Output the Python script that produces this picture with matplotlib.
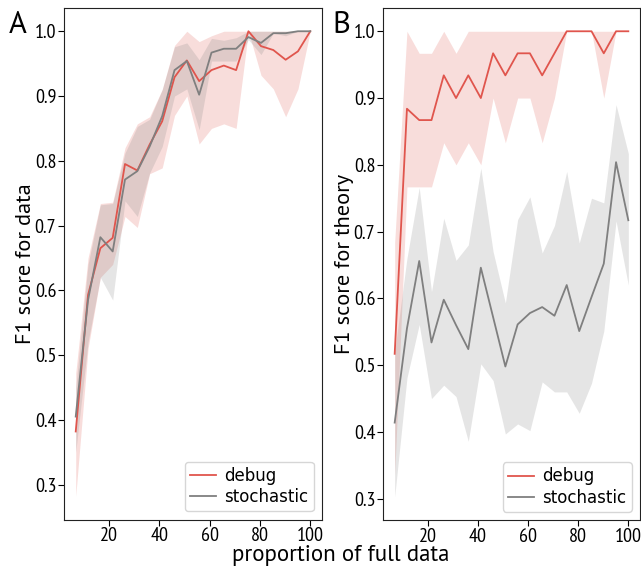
import numpy as np
import matplotlib
matplotlib.use("Agg")
import matplotlib.pyplot as plt

# proportion of full data (%)
prop = [6.7, 11.6, 16.5, 21.4, 26.3, 31.2, 36.1, 41.1, 46.0, 50.9,
        55.8, 60.7, 65.6, 70.5, 75.4, 80.4, 85.3, 90.2, 95.1, 100.0]

# panel A: F1 score for data
data_debug = [0.382, 0.593, 0.665, 0.681, 0.795, 0.785, 0.825, 0.861, 0.929, 0.955,
              0.923, 0.940, 0.947, 0.940, 1.000, 0.977, 0.971, 0.956, 0.969, 1.000]
data_debug_hi = [0.472, 0.650, 0.734, 0.736, 0.820, 0.857, 0.868, 0.910, 0.978, 1.000,
                 0.984, 0.993, 1.000, 1.000, 1.000, 1.000, 1.000, 1.000, 1.000, 1.000]
data_debug_lo = [0.282, 0.510, 0.620, 0.640, 0.714, 0.697, 0.780, 0.789, 0.870, 0.900,
                 0.826, 0.850, 0.857, 0.850, 1.000, 0.932, 0.911, 0.868, 0.911, 1.000]
data_stoch = [0.405, 0.585, 0.682, 0.660, 0.771, 0.784, 0.822, 0.869, 0.940, 0.954,
              0.902, 0.967, 0.973, 0.973, 0.991, 0.982, 0.997, 0.997, 1.000, 1.000]
data_stoch_hi = [0.450, 0.640, 0.732, 0.734, 0.812, 0.853, 0.864, 0.910, 0.976, 0.982,
                 0.956, 0.989, 0.986, 0.990, 1.000, 1.000, 1.000, 1.000, 1.000, 1.000]
data_stoch_lo = [0.350, 0.520, 0.620, 0.585, 0.738, 0.714, 0.781, 0.822, 0.900, 0.911,
                 0.848, 0.954, 0.954, 0.954, 0.987, 0.964, 0.997, 0.993, 1.000, 1.000]

# panel B: F1 score for theory
th_debug = [0.517, 0.884, 0.867, 0.867, 0.934, 0.900, 0.934, 0.900, 0.967, 0.934,
            0.967, 0.967, 0.934, 0.967, 1.000, 1.000, 1.000, 0.967, 1.000, 1.000]
th_debug_hi = [0.684, 1.000, 0.967, 0.967, 1.000, 0.967, 1.000, 1.000, 1.000, 1.000,
               1.000, 1.000, 1.000, 1.000, 1.000, 1.000, 1.000, 1.000, 1.000, 1.000]
th_debug_lo = [0.335, 0.767, 0.767, 0.767, 0.833, 0.800, 0.833, 0.800, 0.900, 0.833,
               0.900, 0.900, 0.833, 0.900, 1.000, 1.000, 1.000, 0.900, 1.000, 1.000]
th_stoch = [0.414, 0.555, 0.656, 0.534, 0.598, 0.560, 0.524, 0.646, 0.572, 0.498,
            0.561, 0.578, 0.587, 0.574, 0.620, 0.551, 0.602, 0.652, 0.804, 0.717]
th_stoch_hi = [0.520, 0.660, 0.766, 0.610, 0.720, 0.657, 0.680, 0.795, 0.670, 0.593,
               0.718, 0.752, 0.668, 0.709, 0.790, 0.683, 0.750, 0.743, 0.890, 0.817]
th_stoch_lo = [0.303, 0.481, 0.561, 0.450, 0.470, 0.453, 0.386, 0.502, 0.477, 0.397,
               0.412, 0.402, 0.475, 0.460, 0.460, 0.428, 0.473, 0.551, 0.716, 0.620]

red = "#e0554d"
grey = "#7f7f7f"
tick_font = ["PT Sans Narrow", "DejaVu Sans"]
label_font = ["PT Sans", "DejaVu Sans"]

W, H = 641, 567
fig = plt.figure(figsize=(W / 100, H / 100), dpi=100)


def px_axes(l, t, r, b):
    return fig.add_axes([l / W, 1 - b / H, (r - l) / W, (b - t) / H])


axA = px_axes(64, 8, 322, 519.5)
axB = px_axes(383, 8, 640, 520)

panels = [
    (axA, data_debug, data_debug_lo, data_debug_hi, data_stoch, data_stoch_lo, data_stoch_hi, "F1 score for data"),
    (axB, th_debug, th_debug_lo, th_debug_hi, th_stoch, th_stoch_lo, th_stoch_hi, "F1 score for theory"),
]
for ax, d, dlo, dhi, s, slo, shi, ylab in panels:
    ax.fill_between(prop, dlo, dhi, color=red, alpha=0.2, linewidth=0)
    ax.plot(prop, d, color=red, lw=1.3, label="debug")
    ax.fill_between(prop, slo, shi, color=grey, alpha=0.2, linewidth=0)
    ax.plot(prop, s, color=grey, lw=1.3, label="stochastic")
    ax.set_xticks([20, 40, 60, 80, 100])
    ax.set_yticks([0.3, 0.4, 0.5, 0.6, 0.7, 0.8, 0.9, 1.0])
    for lab in ax.get_xticklabels() + ax.get_yticklabels():
        lab.set_fontfamily(tick_font)
        lab.set_fontsize(14.5)
    ax.tick_params(length=4, pad=1.5)
    for sp in ax.spines.values():
        sp.set_color("#222222")
    ax.set_ylabel(ylab, fontfamily=label_font, fontsize=16, labelpad=0)
    ax.legend(loc="lower right", prop={"family": "DejaVu Sans", "size": 12},
              handlelength=1.6, borderpad=0.3, labelspacing=0.2, handletextpad=0.5)

fig.text(9 / W, 1 - 33 / H, "A", fontfamily=label_font, fontsize=22)
fig.text(332 / W, 1 - 33 / H, "B", fontfamily=label_font, fontsize=22)
fig.text(341 / W, 1 - 555 / H, "proportion of full data", fontfamily=label_font,
         fontsize=16.5, ha="center", va="center")

fig.savefig("out.png", dpi=100)
